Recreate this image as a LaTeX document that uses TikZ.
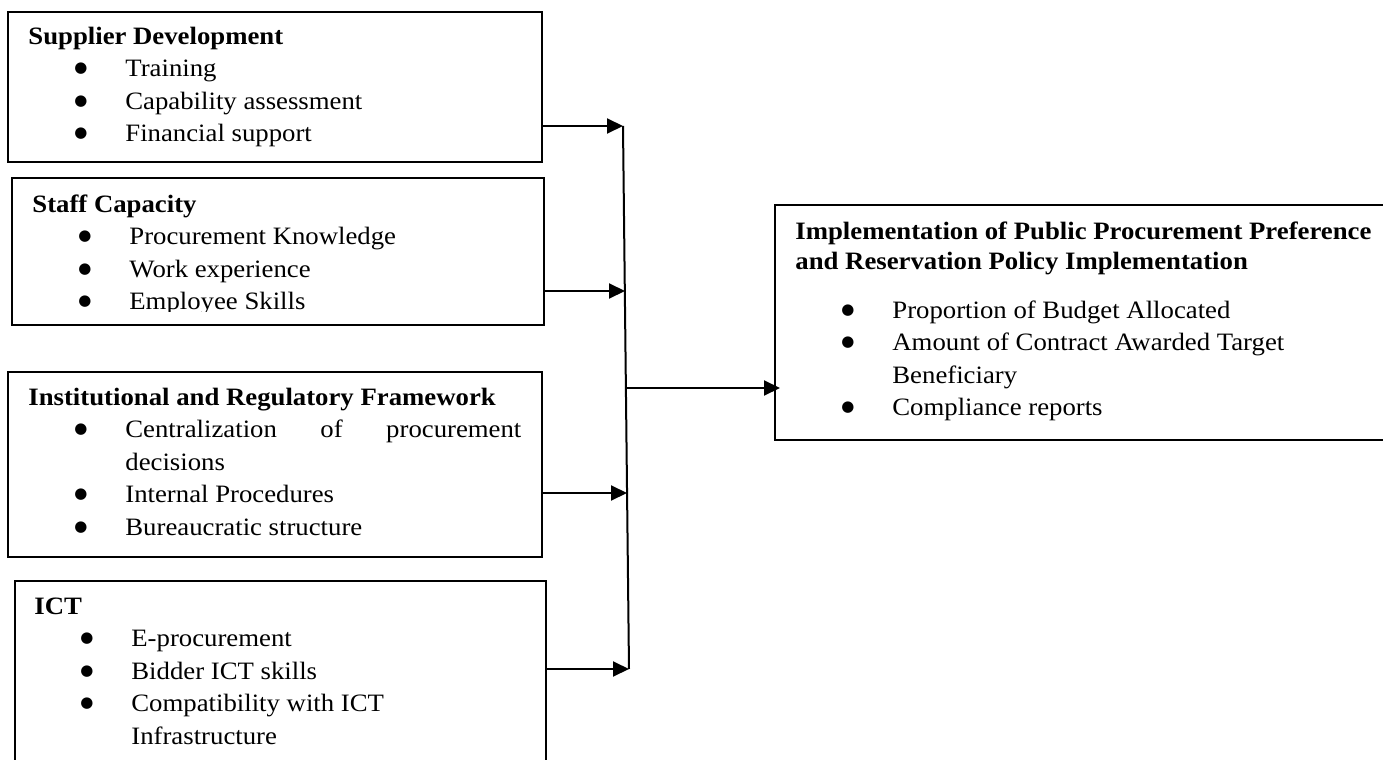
\documentclass[tikz,border=0pt]{standalone}
\usepackage{fontspec}
\setmainfont{Liberation Serif}[FakeStretch=1.07]
\newfontfamily\dotfont{DejaVu Sans}
\usetikzlibrary{arrows.meta}

\newcommand{\bul}{\raisebox{1.8pt}{\dotfont\fontsize{7.5}{7.5}\selectfont ●}}
\newcommand{\itm}[1]{\hspace*{23pt}\makebox[25.5pt][l]{\bul}#1}
\newcommand{\more}[1]{\hspace*{48.5pt}#1}

\begin{document}
\begin{tikzpicture}[x=0.5pt, y=-0.5pt, >={Triangle[length=8pt,width=7.5pt]},
                    box/.style={draw, line width=1pt, inner sep=0pt},
                    txt/.style={anchor=base west, inner sep=0pt, font=\fontsize{12.5}{16.25}\selectfont},
                    every edge/.style={draw, line width=1pt}]

\useasboundingbox (0,0) rectangle (1383,760);
\clip (0,0) rectangle (1383,760);
\fill[white] (0,0) rectangle (1383,760);

\node[box, minimum width=267pt, minimum height=75pt] (sd) at (275,87) {};
\node[box, minimum width=266pt, minimum height=73.5pt] (sc) at (278,251.5) {};
\node[box, minimum width=267pt, minimum height=92.5pt] (irf) at (275,464.5) {};
\node[box, minimum width=265.5pt, minimum height=109.5pt] (ict) at (280.5,690.5) {};
\node[box, minimum width=312.5pt, minimum height=117.5pt] (ppr) at (1087.5,322.5) {};

\node[txt] (sdtxt) at (28,44) {\parbox[t]{260pt}{\textbf{Supplier Development}\\
  \itm{Training}\\
  \itm{Capability assessment}\\
  \itm{Financial support}}};

% last line runs into the frame
\begin{scope}
\clip (0,0) rectangle (1383,311);
\node[txt] (sctxt) at (32,212) {\parbox[t]{260pt}{\textbf{Staff Capacity}\\
  \itm{Procurement Knowledge}\\
  \itm{Work experience}\\
  \itm{Employee Skills}}};
\end{scope}

\node[txt] (irftxt) at (28,405) {\parbox[t]{260pt}{\textbf{Institutional and Regulatory Framework}\\
  \itm{\makebox[198pt][s]{Centralization\hfill of\hfill procurement}}\\
  \more{decisions}\\
  \itm{Internal Procedures}\\
  \itm{Bureaucratic structure}}};

\node[txt] (icttxt) at (34,614) {\parbox[t]{260pt}{\textbf{ICT}\\
  \itm{E-procurement}\\
  \itm{Bidder ICT skills}\\
  \itm{Compatibility with ICT}\\
  \more{Infrastructure}}};

\node[txt] (pprtxt) at (795,239) {\parbox[t]{300pt}{\textbf{Implementation of Public Procurement Preference}\\[-1.25pt]
  \textbf{and Reservation Policy Implementation}\\[8.25pt]
  \itm{Proportion of Budget Allocated}\\
  \itm{Amount of Contract Awarded Target}\\
  \more{Beneficiary}\\
  \itm{Compliance reports}}};

% joining line
\coordinate (j1) at (623,126);
\coordinate (j2) at (625,291);
\coordinate (j3) at (627,493);
\coordinate (j4) at (629,669);
\coordinate (hub) at (626,388);
\draw[line width=1pt] (j1) -- (j4);

\path[->]
(j1 -| sd.east) edge (j1)
(j2 -| sc.east) edge (j2)
(j3 -| irf.east) edge (j3)
(j4 -| ict.east) edge (j4)
(hub) edge [shorten >=-3pt] (hub -| ppr.west);
\end{tikzpicture}
\end{document}
